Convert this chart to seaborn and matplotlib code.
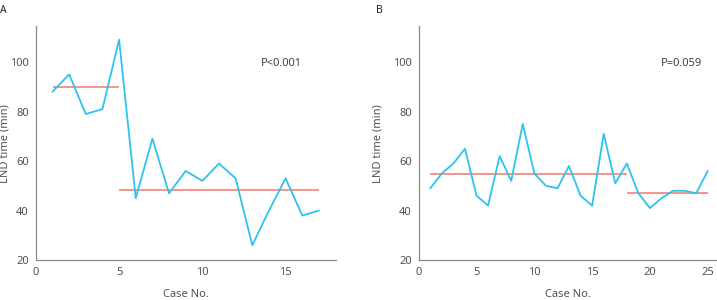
import numpy as np
import pandas as pd
import matplotlib
matplotlib.use("Agg")
import matplotlib.pyplot as plt
import seaborn as sns

# ── Data ───────────────────────────────────────────────────────────────────
case_a = list(range(1, 18))
time_a = [88, 95, 79, 81, 109, 45, 69, 47, 56, 52, 59, 53, 26, 40, 53, 38, 40]
mean_a_start = [1, 5]
mean_a_end = [5, 17]
mean_a_value = [90.0, 48.3]

case_b = list(range(1, 26))
time_b = [49, 55, 59, 65, 46, 42, 62, 52, 75, 55, 50, 49, 58, 46, 42, 71,
          51, 59, 47, 41, 45, 48, 48, 47, 56]
mean_b_start = [1, 18]
mean_b_end = [18, 25]
mean_b_value = [54.8, 47.3]

# ── Style ──────────────────────────────────────────────────────────────────
C_LINE = "#2EC3EE"
C_MEAN = "#F2786A"
C_AXIS = "#8A8A8A"
C_TEXT = "#505050"
FS = 8

sns.set_style("white")
plt.rcParams["font.family"] = ["Noto Sans", "DejaVu Sans"]

fig = plt.figure(figsize=(7.17, 3.0), dpi=100)
ax_a = fig.add_axes([0.050, 0.133, 0.418, 0.780])
ax_b = fig.add_axes([0.584, 0.133, 0.416, 0.780])

panels = [
    (ax_a, case_a, time_a, mean_a_start, mean_a_end, mean_a_value,
     (0, 18), [0, 5, 10, 15], "P<0.001", 0.82),
    (ax_b, case_b, time_b, mean_b_start, mean_b_end, mean_b_value,
     (0, 25.8), [0, 5, 10, 15, 20, 25], "P=0.059", 0.88),
]

for ax, x, y, s, e, m, xlim, xticks, ptxt, px in panels:
    df = pd.DataFrame({"case": x, "time": y})
    sns.lineplot(data=df, x="case", y="time", ax=ax, color=C_LINE, lw=1.3)
    ax.hlines(m, s, e, color=C_MEAN, lw=1.1, zorder=1)

    ax.set_xlim(*xlim)
    ax.set_ylim(20, 114.5)
    ax.set_xticks(xticks)
    ax.set_yticks([20, 40, 60, 80, 100])
    ax.set_xlabel("Case No.", fontsize=FS, color=C_TEXT, labelpad=8)
    ax.set_ylabel("LND time (min)", fontsize=FS, color=C_TEXT, labelpad=7)

    for sp in ["top", "right"]:
        ax.spines[sp].set_visible(False)
    for sp in ["left", "bottom"]:
        ax.spines[sp].set_color(C_AXIS)
        ax.spines[sp].set_linewidth(0.9)
    ax.tick_params(axis="both", direction="out", length=3, width=0.8,
                   colors=C_AXIS, labelcolor=C_TEXT, labelsize=FS, pad=2)

    ax.text(px, 0.84, ptxt, transform=ax.transAxes, ha="center", va="center",
            fontsize=FS, color="#404040")

# left panel y label sits right against the figure edge
ax_a.yaxis.set_label_coords(-0.086, 0.5)

fig.text(0.0, 0.965, "A", fontsize=7.5, fontweight="bold", color="#222222",
         ha="left", va="center")
fig.text(0.524, 0.965, "B", fontsize=7.5, fontweight="bold", color="#222222",
         ha="left", va="center")

plt.savefig("out.png", dpi=100, facecolor="white")
